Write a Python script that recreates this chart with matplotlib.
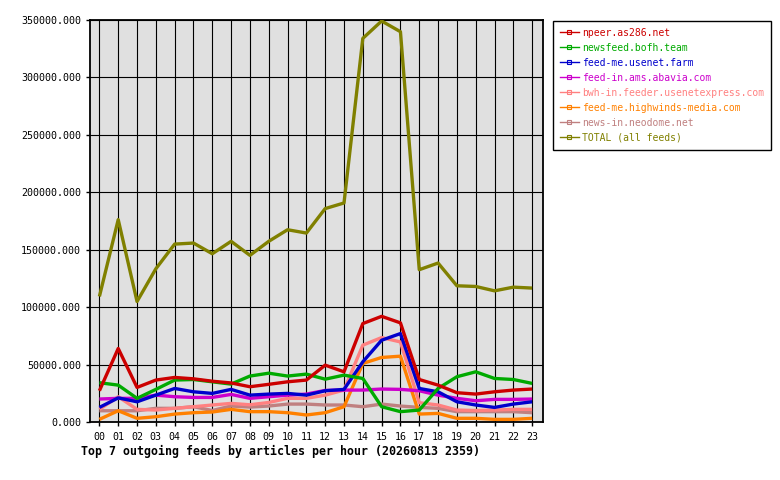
import matplotlib
matplotlib.use("Agg")
import matplotlib.pyplot as plt
from matplotlib.ticker import FormatStrFormatter

hours = ["%02d" % h for h in range(24)]

# articles per hour, per outgoing feed
npeer = [27200, 64000, 30100, 36500, 38800, 37600, 35500, 34000, 30700, 32800, 35000, 36500,
         49500, 43700, 85700, 92000, 86300, 37000, 32100, 25500, 24300, 26300, 27800, 28700]
newsfeed = [34200, 32100, 20600, 28400, 36500, 37000, 35000, 33000, 40000, 42500, 40000, 41700,
            37300, 40800, 37900, 13300, 9000, 10400, 29200, 39400, 43700, 37900, 37000, 33600]
usenet_farm = [12700, 21000, 17600, 23400, 29200, 26300, 24900, 28400, 23400, 24300, 24900, 23400,
               27200, 28400, 52400, 71200, 77000, 29200, 26300, 17600, 14800, 12700, 15600, 17600]
abavia = [20000, 20600, 20600, 23400, 22000, 21400, 21400, 24000, 20600, 22000, 23400, 24300,
          27500, 27800, 27800, 28700, 28400, 27200, 23400, 20600, 18500, 19700, 19700, 20000]
usenetexpress = [11000, 22000, 11000, 10400, 11900, 13300, 14800, 16200, 15000, 17000, 20600, 20600,
                 23400, 27800, 66900, 73500, 69700, 16800, 14800, 10400, 10000, 10400, 11000, 11000]
highwinds = [2300, 9800, 3200, 4600, 6900, 8100, 8700, 11000, 9000, 9000, 8100, 6100,
             8100, 13300, 51000, 56200, 57300, 6900, 7500, 3200, 3200, 2300, 2300, 3200]
neodome = [9800, 9800, 9800, 11900, 11900, 13300, 10000, 13900, 13000, 13900, 15600, 15600,
           14800, 14800, 13300, 15600, 13900, 12700, 11900, 9000, 9000, 9000, 9000, 8100]
total = [109300, 176200, 104900, 133400, 154900, 155800, 146500, 157300, 145100, 157300, 167400, 164500,
         185800, 190700, 334000, 349100, 339800, 132600, 138400, 118600, 118000, 114200, 117400, 116600]

labels = ["npeer.as286.net", "newsfeed.bofh.team", "feed-me.usenet.farm",
          "feed-in.ams.abavia.com", "bwh-in.feeder.usenetexpress.com",
          "feed-me.highwinds-media.com", "news-in.neodome.net", "TOTAL (all feeds)"]
colors = ["#cc0000", "#00aa00", "#0000cc", "#cc00cc", "#ff8080", "#ff8000", "#c08080", "#808000"]
series = [npeer, newsfeed, usenet_farm, abavia, usenetexpress, highwinds, neodome, total]

mono = "DejaVu Sans Mono"

fig = plt.figure(figsize=(7.8, 4.8), dpi=100)
ax = fig.add_axes([90 / 780, 58 / 480, 452.5 / 780, 402 / 480])
ax.set_facecolor("#e0e0e0")

x = list(range(24))
handles = []
for i, (vals, col, lab) in enumerate(zip(series, colors, labels)):
    ax.plot(x, vals, color=col, lw=2.4, zorder=20 - i, solid_capstyle="butt")
    h, = ax.plot([], [], color=col, lw=1.0, marker="s", markersize=2.5,
                 markerfacecolor="none", markeredgewidth=0.8, label=lab)
    handles.append(h)

ax.set_xlim(-0.5, 23.55)
ax.set_ylim(0, 350000)
ax.set_xticks(x)
ax.set_xticklabels(hours)
ax.set_yticks(range(0, 350001, 50000))
ax.yaxis.set_major_formatter(FormatStrFormatter("%.3f"))
ax.grid(True, color="black", lw=0.8, zorder=1)
ax.set_axisbelow(True)
ax.tick_params(length=3, width=1, color="black", labelsize=7.2)
ax.tick_params(axis="y", pad=3.5)
ax.tick_params(axis="x", pad=4)
for t in ax.get_xticklabels() + ax.get_yticklabels():
    t.set_family(mono)
for s in ax.spines.values():
    s.set_linewidth(1.3)
    s.set_color("black")

leg = fig.legend(handles=handles, loc="upper left",
                 bbox_to_anchor=(552.7 / 780, 1 - 20.7 / 480), borderaxespad=0,
                 fancybox=False, edgecolor="black", framealpha=1,
                 handlelength=2.0, handletextpad=0.3, labelspacing=0.52,
                 borderpad=0.7, labelcolor="linecolor",
                 prop={"family": mono, "size": 7.0})
leg.get_frame().set_linewidth(1.0)

fig.text(81 / 780, 1 - 451.5 / 480,
         "Top 7 outgoing feeds by articles per hour (20260813 2359)",
         ha="left", va="center", family=mono, fontweight="bold", fontsize=8.4)

fig.savefig("out.png", dpi=100, facecolor="white")
